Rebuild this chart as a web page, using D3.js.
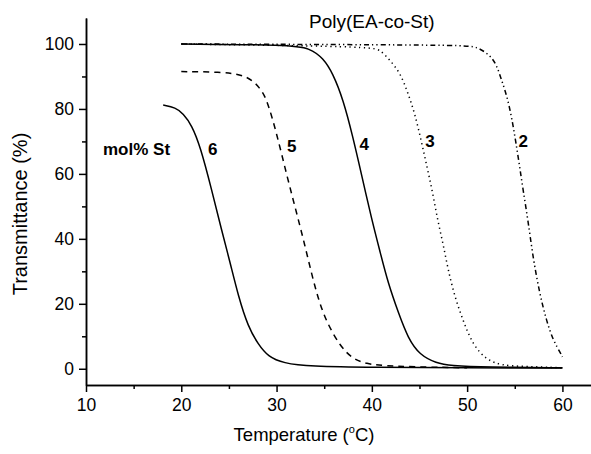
<!DOCTYPE html>
<html>
<head>
<meta charset="utf-8">
<script src="https://cdn.jsdelivr.net/npm/d3@7"></script>
<style>
  body { margin: 0; background: #fff; }
  svg { display: block; font-family: Arial, "Liberation Sans", sans-serif; }
  .axis path, .axis line { stroke: #000; stroke-width: 1.5; }
  .axis text { font-size: 17.5px; fill: #000; }
  .curve { fill: none; stroke: #000; stroke-width: 1.5; }
</style>
</head>
<body>
<svg id="chart"></svg>
<script>
// series: temperature (C) and transmittance (%)
var t6 = [18.1, 19.4, 20.2, 21.1, 22, 23.2, 24.2, 25.1, 26, 27, 28.1, 29.1, 30.7, 33.5, 40, 50, 60];
var v6 = [81.2, 80.4, 78.6, 75, 68.4, 55, 43, 33, 22.2, 13, 7.4, 3.8, 1.7, 0.7, 0.4, 0.3, 0.2];

var t5 = [20, 24, 26.9, 28.3, 29, 30, 31.1, 32.3, 33, 33.7, 34.4, 35.3, 36.7, 37.9, 39.3, 41.9, 50];
var v5 = [91.5, 91.4, 90.5, 86.4, 82.8, 72.6, 59.2, 45.8, 37.6, 29, 21.2, 14, 6.9, 3.3, 1.5, 0.7, 0.3];

var t4 = [20, 31.4, 33.5, 34.9, 35.9, 37, 38, 38.9, 40, 40.9, 41.7, 42.8, 43.8, 45, 46.8, 48.2, 52, 60];
var v4 = [100, 99.7, 98.7, 95.6, 91, 82.8, 71.5, 60, 45.8, 35.6, 26.4, 17.1, 9.4, 4.3, 1.7, 1.0, 0.5, 0.3];

var t3 = [20, 39.8, 40.9, 41.9, 43, 43.8, 44.5, 45.2, 45.8, 46.4, 46.9, 47.5, 48, 48.7, 49.6, 50.6, 52, 53.6, 56.1, 60];
var v3 = [100, 99.2, 98.2, 95, 91, 84.8, 78.7, 70, 62, 54, 45.8, 38.2, 30.5, 22.2, 14.6, 7.4, 2.8, 1, 0.7, 0.3];

var t2 = [20, 49.6, 51, 52.4, 53.1, 53.6, 54.2, 54.7, 55.1, 55.5, 55.9, 56.4, 56.9, 57.6, 58.3, 59, 59.9, 60];
var v2 = [100, 99.7, 99.2, 96.6, 93.5, 89, 83.8, 77, 70, 62.5, 54.5, 45.5, 34.5, 23.3, 15.1, 8.9, 4.3, 3.6];

var seriesNames = ['6', '5', '4', '3', '2'];
var xMajor = [10, 20, 30, 40, 50, 60];
var xMinor = [15, 25, 35, 45, 55];
var yMajor = [0, 20, 40, 60, 80, 100];
var yMinor = [10, 30, 50, 70, 90];

(function() {
    'use strict';

    var WIDTH = 591, HEIGHT = 454;
    var svg = d3.select('#chart').attr('width', WIDTH).attr('height', HEIGHT);

    var x = d3.scaleLinear().domain([10, 63]).range([86, 591]);
    var y = d3.scaleLinear().domain([-5, 108]).range([385, 18]);

    // axes: majors with labels, minors as short ticks
    svg.append('g').attr('class', 'axis').attr('transform', 'translate(0,385)')
        .call(d3.axisBottom(x).tickValues(xMajor).tickSize(7).tickPadding(7).tickSizeOuter(0));
    svg.append('g').attr('class', 'axis').attr('transform', 'translate(0,385)')
        .call(d3.axisBottom(x).tickValues(xMinor).tickSize(4).tickFormat('').tickSizeOuter(0));
    svg.append('g').attr('class', 'axis').attr('transform', 'translate(86,0)')
        .call(d3.axisLeft(y).tickValues(yMajor).tickSize(7).tickPadding(5).tickSizeOuter(0));
    svg.append('g').attr('class', 'axis').attr('transform', 'translate(86,0)')
        .call(d3.axisLeft(y).tickValues(yMinor).tickSize(4).tickFormat('').tickSizeOuter(0));

    var curves = [
        { name: '6', t: t6, v: v6, dash: null },
        { name: '5', t: t5, v: v5, dash: '6,5' },
        { name: '4', t: t4, v: v4, dash: null },
        { name: '3', t: t3, v: v3, dash: '1.3,3.5' },
        { name: '2', t: t2, v: v2, dash: '5,3,1.3,3,1.3,3' }
    ];

    var line = d3.line()
        .x(d => x(d[0]))
        .y(d => y(d[1]))
        .curve(d3.curveBasis);

    svg.selectAll('path.curve').data(curves).enter()
        .append('path')
            .attr('class', 'curve')
            .attr('stroke-dasharray', c => c.dash)
            .attr('stroke-width', c => c.dash ? 1.4 : 1.5)
            .attr('d', c => line(c.t.map((t, i) => [t, c.v[i]])));

    // curve labels (mol% St)
    var labelPos = { '6': [22.8, 65.8], '5': [31.1, 66.8], '4': [38.7, 67.4], '3': [45.6, 68.3], '2': [55.4, 68.3] };
    svg.selectAll('text.lbl').data(seriesNames).enter()
        .append('text')
            .attr('class', 'lbl')
            .attr('x', n => x(labelPos[n][0]))
            .attr('y', n => y(labelPos[n][1]))
            .attr('font-size', 17).attr('font-weight', 'bold')
            .text(n => n);

    svg.append('text')
        .attr('x', 103).attr('y', 155)
        .attr('font-size', 17).attr('font-weight', 'bold')
        .text('mol% St');

    svg.append('text')
        .attr('x', 309).attr('y', 28)
        .attr('font-size', 19)
        .text('Poly(EA-co-St)');

    var xt = svg.append('text')
        .attr('x', 304).attr('y', 441)
        .attr('text-anchor', 'middle')
        .attr('font-size', 18.5);
    xt.append('tspan').text('Temperature (');
    xt.append('tspan').attr('font-size', 11).attr('dy', -8).text('o');
    xt.append('tspan').attr('dy', 8).text('C)');

    svg.append('text')
        .attr('transform', 'translate(27,214) rotate(-90)')
        .attr('text-anchor', 'middle')
        .attr('font-size', 20)
        .text('Transmittance (%)');
})();
</script>
</body>
</html>
